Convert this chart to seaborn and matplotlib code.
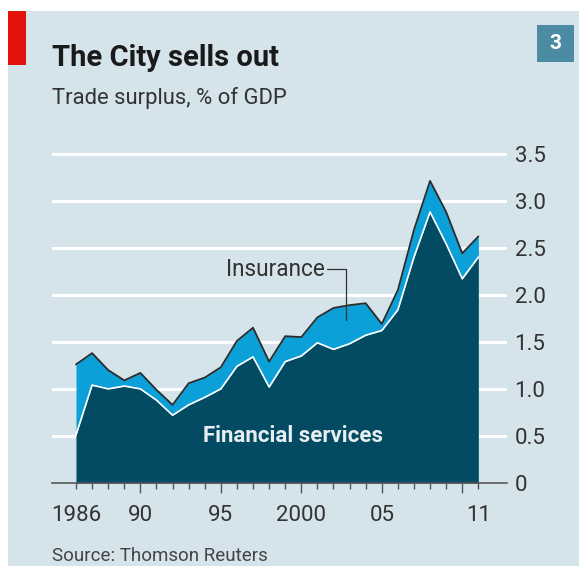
import matplotlib
matplotlib.use('Agg')
import matplotlib.pyplot as plt
from matplotlib.patches import Rectangle
import seaborn as sns
import numpy as np
import pandas as pd

years = list(range(1986, 2012))
financial = [0.51, 1.04, 1.00, 1.03, 1.00, 0.88, 0.72, 0.83, 0.91, 1.00,
             1.24, 1.34, 1.02, 1.29, 1.35, 1.49, 1.42, 1.48, 1.57, 1.62,
             1.84, 2.40, 2.88, 2.54, 2.17, 2.40]
insurance = [0.75, 0.34, 0.20, 0.06, 0.17, 0.11, 0.11, 0.23, 0.21, 0.23,
             0.27, 0.31, 0.27, 0.27, 0.20, 0.27, 0.44, 0.41, 0.34, 0.07,
             0.21, 0.29, 0.33, 0.34, 0.27, 0.22]
xtick_years = [1986, 1990, 1995, 2000, 2005, 2011]
xtick_labels = ['1986', '90', '95', '2000', '05', '11']
yticks = [0, 0.5, 1.0, 1.5, 2.0, 2.5, 3.0, 3.5]
ytick_labels = ['0', '0.5', '1.0', '1.5', '2.0', '2.5', '3.0', '3.5']

df = pd.DataFrame({'year': years, 'financial': financial, 'insurance': insurance})
df['total'] = df['financial'] + df['insurance']

bg = '#d5e3eb'
dark = '#024b62'
light = '#0ba0d8'
grey = '#333333'

sns.set_theme(style='white')
plt.rcParams['font.family'] = ['Roboto', 'DejaVu Sans']

fig = plt.figure(figsize=(5.79, 5.66), dpi=100)
fig.patch.set_facecolor('white')
fig.patches.append(Rectangle((8 / 579, 0), 1, 1 - 11 / 566, transform=fig.transFigure,
                             facecolor=bg, edgecolor='none', zorder=-10))
fig.patches.append(Rectangle((8 / 579, 1 - 65 / 566), 18 / 579, 54 / 566,
                             transform=fig.transFigure, facecolor='#e3120b',
                             edgecolor='none'))
fig.patches.append(Rectangle((537 / 579, 1 - 62 / 566), 37 / 579, 37 / 566,
                             transform=fig.transFigure, facecolor='#4b8ba3',
                             edgecolor='none'))
fig.text(555.5 / 579, 1 - 43.5 / 566, '3', color='white', fontsize=15,
         fontweight='bold', ha='center', va='center')

fig.text(52 / 579, 1 - 66 / 566, 'The City sells out', fontsize=21,
         fontweight='bold', color='#1a1a1a', va='baseline')
fig.text(52 / 579, 1 - 104 / 566, 'Trade surplus, % of GDP', fontsize=15.8,
         color=grey, va='baseline')
fig.text(52 / 579, 1 - 561 / 566, 'Source: Thomson Reuters', fontsize=13.5,
         color='#444444', va='baseline')

ax = fig.add_axes([52 / 579, 83 / 566, 455 / 579, (483 - 144.2) / 566])
ax.set_facecolor('none')
ax.set_axisbelow(True)

ax.fill_between(df['year'], 0, df['financial'], color=dark, lw=0, zorder=1)
ax.fill_between(df['year'], df['financial'], df['total'], color=light, lw=0, zorder=1)
sns.lineplot(data=df, x='year', y='financial', ax=ax, color='white', lw=1.2, zorder=2)
sns.lineplot(data=df, x='year', y='total', ax=ax, color='#2b2b2b', lw=1.3, zorder=2)

ax.set_xlim(1984.51, 2012.78)
ax.set_ylim(0, 3.6)

ax.yaxis.tick_right()
ax.set_yticks(yticks, ytick_labels)
ax.tick_params(axis='y', length=0, pad=5.5, labelsize=16, labelcolor=grey)
ax.grid(axis='y', color='white', lw=2.2)
ax.grid(axis='x', visible=False)

ax.set_xticks(years, [xtick_labels[xtick_years.index(y)] if y in xtick_years else ''
                      for y in years])
ax.tick_params(axis='x', direction='out', length=7, width=1, color='#555555',
               pad=9, labelsize=16, labelcolor=grey, bottom=True)
for y, tick in zip(years, ax.xaxis.get_major_ticks()):
    tick.tick1line.set_markersize(7.5 if y % 5 == 0 else 4)

for side in ['top', 'left', 'right']:
    ax.spines[side].set_visible(False)
ax.spines['bottom'].set_color('#555555')
ax.spines['bottom'].set_linewidth(1.2)
ax.set_xlabel('')
ax.set_ylabel('')

ax.text(2001.45, 2.27, 'Insurance', fontsize=16.3, color=grey, ha='right', va='center')
ax.plot([2001.6, 2002.78, 2002.78], [2.27, 2.27, 1.73], color=grey, lw=0.9, zorder=3)
ax.text(1999.5, 0.5, 'Financial services', fontsize=16, fontweight='bold',
        color='#e8eef2', ha='center', va='center')

fig.savefig('out.png', dpi=100, facecolor=fig.get_facecolor())
